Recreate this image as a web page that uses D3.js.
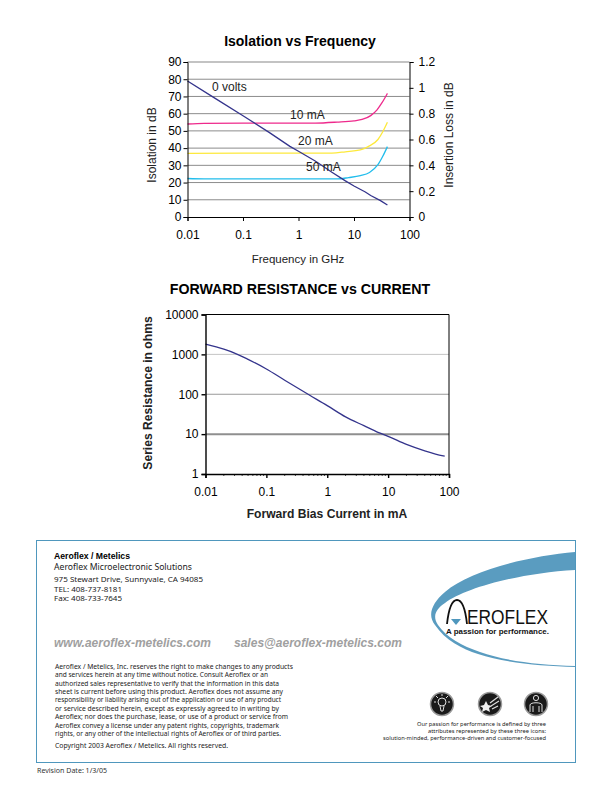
<!DOCTYPE html>
<html>
<head>
<meta charset="utf-8">
<script src="https://cdnjs.cloudflare.com/ajax/libs/d3/7.8.5/d3.min.js"></script>
<style>
  html, body { margin: 0; padding: 0; background: #fff; }
  text { font-family: "Liberation Sans", Arial, sans-serif; }
</style>
</head>
<body>
<div id="page"></div>
<script>
// isolation chart, x in GHz
const freqTicks = [0.01, 0.1, 1, 10, 100];
const isolationTicks = [0, 10, 20, 30, 40, 50, 60, 70, 80, 90];
const lossTicks = [0, 0.2, 0.4, 0.6, 0.8, 1, 1.2];
const zeroVolts = [[0.01, 79], [0.03, 69.3], [0.1, 58.8], [0.3, 49], [0.7, 41], [1, 38.2], [2, 32.5], [4, 26], [7, 21], [10, 18], [16, 14.5], [20, 12.5], [30, 9.5], [40, 7]];
const tenMa = [[0.01, 0.72], [0.02, 0.725], [0.1, 0.727], [1, 0.727], [2, 0.727], [5, 0.735], [10, 0.745], [14, 0.755], [20, 0.785], [26, 0.83], [32, 0.885], [40, 0.957]];
const twentyMa = [[0.01, 0.493], [0.1, 0.495], [1, 0.495], [4, 0.495], [7, 0.505], [13, 0.52], [18, 0.545], [27, 0.6], [33, 0.66], [40, 0.733]];
const fiftyMa = [[0.01, 0.298], [0.02, 0.295], [0.1, 0.295], [1, 0.295], [5, 0.295], [8, 0.305], [13, 0.32], [19, 0.345], [27, 0.405], [33, 0.47], [40, 0.545]];

// resistance chart, x in mA
const currentTicks = [0.01, 0.1, 1, 10, 100];
const currentMinor = [0.02, 0.03, 0.04, 0.05, 0.06, 0.07, 0.08, 0.09, 0.2, 0.3, 0.4, 0.5, 0.6, 0.7, 0.8, 0.9, 2, 3, 4, 5, 6, 7, 8, 9, 20, 30, 40, 50, 60, 70, 80, 90];
const resistanceTicks = [1, 10, 100, 1000, 10000];
const resistance = [[0.01, 1800], [0.02, 1350], [0.03, 1080], [0.05, 750], [0.1, 430], [0.2, 225], [0.5, 97], [1, 52], [2, 27], [4, 16.3], [7, 10.9], [10, 8.8], [20, 5.5], [40, 3.8], [60, 3.17], [85, 2.8]];

const addressLines = ["Aeroflex Microelectronic Solutions", "975 Stewart Drive, Sunnyvale, CA  94085", "TEL: 408-737-8181", "Fax: 408-733-7645"];
const legalLines = [
  "Aeroflex / Metelics, Inc. reserves the right to make changes to any products",
  "and services herein at any time without notice. Consult Aeroflex or an",
  "authorized sales representative to verify that the information in this data",
  "sheet is current before using this product. Aeroflex does not assume any",
  "responsibility or liability arising out of the application or use of any product",
  "or service described herein, except as expressly agreed to in writing by",
  "Aeroflex; nor does the purchase, lease, or use of a product or service from",
  "Aeroflex convey a license under any patent rights, copyrights, trademark",
  "rights, or any other of the intellectual rights of Aeroflex or of third parties."
];
const legalWidths = [238, 213, 224, 228, 226, 224, 233, 224, 226];
const captionLines = ["Our passion for performance is defined by three", "attributes represented by these three icons:", "solution-minded, performance-driven and customer-focused"];

const svg = d3.select("#page").append("svg")
  .attr("width", 612)
  .attr("height", 792)
  .style("display", "block");

function label(x, y, str, size, opts) {
  opts = opts || {};
  const t = svg.append("text")
    .attr("x", x)
    .attr("y", y)
    .attr("font-size", size)
    .attr("fill", opts.fill || "#000")
    .attr("text-anchor", opts.anchor || "start")
    .text(str);
  if (opts.bold) t.attr("font-weight", "bold");
  if (opts.italic) t.attr("font-style", "italic");
  if (opts.rotate) t.attr("transform", "rotate(-90 " + x + " " + y + ")");
  if (opts.length) t.attr("textLength", opts.length).attr("lengthAdjust", "spacingAndGlyphs");
  if (opts.family) t.style("font-family", opts.family);
  return t;
}

function styleAxis(g, w) {
  g.selectAll("path, line").attr("stroke", "#000").attr("stroke-width", w);
  g.selectAll("text").attr("font-size", 12).attr("fill", "#000").style("font-family", '"Liberation Sans", Arial, sans-serif');
}

// ---- Isolation vs Frequency ----
const x1 = d3.scaleLog().domain([0.01, 100]).range([187.5, 409.5]);
const yIso = d3.scaleLinear().domain([0, 90]).range([217, 62]);
const yLoss = d3.scaleLinear().domain([0, 1.2]).range([217, 62]);

svg.append("g").selectAll("line")
  .data(isolationTicks.filter(d => d > 0 && d < 90))
  .enter().append("line")
  .attr("x1", x1.range()[0])
  .attr("x2", x1.range()[1])
  .attr("y1", d => yIso(d))
  .attr("y2", d => yIso(d))
  .attr("stroke", "#8c8c8c")
  .attr("stroke-width", 1);

svg.append("line")
  .attr("x1", x1.range()[0]).attr("x2", x1.range()[1])
  .attr("y1", 62).attr("y2", 62)
  .attr("stroke", "#555").attr("stroke-width", 0.7);

const lineIso = d3.line().x(d => x1(d[0])).y(d => yIso(d[1]));
const lineLoss = d3.line().x(d => x1(d[0])).y(d => yLoss(d[1])).curve(d3.curveMonotoneX);

svg.append("path").datum(tenMa).attr("d", lineLoss).attr("fill", "none").attr("stroke", "#ee2a8c").attr("stroke-width", 1.3);
svg.append("path").datum(twentyMa).attr("d", lineLoss).attr("fill", "none").attr("stroke", "#fde93c").attr("stroke-width", 1.3);
svg.append("path").datum(fiftyMa).attr("d", lineLoss).attr("fill", "none").attr("stroke", "#22bdec").attr("stroke-width", 1.3);
svg.append("path").datum(zeroVolts).attr("d", lineIso).attr("fill", "none").attr("stroke", "#34348c").attr("stroke-width", 1.3);

const axB1 = svg.append("g").attr("transform", "translate(0,217)")
  .call(d3.axisBottom(x1).tickValues(freqTicks).tickFormat(d => String(d)).tickSize(4).tickPadding(9));
styleAxis(axB1, 1);
const axL1 = svg.append("g").attr("transform", "translate(187.5,0)")
  .call(d3.axisLeft(yIso).tickValues(isolationTicks).tickSize(4).tickPadding(2));
styleAxis(axL1, 1);
const axR1 = svg.append("g").attr("transform", "translate(409.5,0)")
  .call(d3.axisRight(yLoss).tickValues(lossTicks).tickFormat(d => String(d)).tickSize(4).tickPadding(5));
styleAxis(axR1, 1);

label(300, 46, "Isolation vs Frequency", 14, { bold: true, anchor: "middle" });
label(156, 145, "Isolation in dB", 12, { rotate: true, anchor: "middle", fill: "#222" });
label(453, 135, "Insertion Loss in dB", 12, { rotate: true, anchor: "middle", fill: "#222" });
label(298, 263, "Frequency in GHz", 11.5, { anchor: "middle", fill: "#222" });
label(212, 91, "0 volts", 12, { fill: "#222" });
label(290, 119, "10 mA", 12, { fill: "#222" });
label(298, 145, "20 mA", 12, { fill: "#222" });
label(306, 171, "50 mA", 12, { fill: "#222" });

// ---- Forward resistance vs current ----
const x2 = d3.scaleLog().domain([0.01, 100]).range([205.5, 449]);
const yRes = d3.scaleLog().domain([1, 10000]).range([474, 314.5]);

svg.append("line").attr("x1", 205.5).attr("x2", 449).attr("y1", yRes(1000)).attr("y2", yRes(1000)).attr("stroke", "#c4c4c4").attr("stroke-width", 1);
svg.append("line").attr("x1", 205.5).attr("x2", 449).attr("y1", yRes(100)).attr("y2", yRes(100)).attr("stroke", "#999").attr("stroke-width", 1);
svg.append("line").attr("x1", 205.5).attr("x2", 449).attr("y1", yRes(10)).attr("y2", yRes(10)).attr("stroke", "#8f8f8f").attr("stroke-width", 2);

svg.append("path").datum(resistance)
  .attr("d", d3.line().x(d => x2(d[0])).y(d => yRes(d[1])).curve(d3.curveMonotoneX))
  .attr("fill", "none").attr("stroke", "#34348c").attr("stroke-width", 1.3);

svg.append("line").attr("x1", 205.5).attr("x2", 449).attr("y1", 314.5).attr("y2", 314.5).attr("stroke", "#000").attr("stroke-width", 1);
svg.append("line").attr("x1", 449).attr("x2", 449).attr("y1", 314.5).attr("y2", 474).attr("stroke", "#000").attr("stroke-width", 1);

svg.append("g").selectAll("line")
  .data(currentMinor)
  .enter().append("line")
  .attr("x1", d => x2(d)).attr("x2", d => x2(d))
  .attr("y1", 474).attr("y2", 476)
  .attr("stroke", "#000").attr("stroke-width", 0.7);

const axB2 = svg.append("g").attr("transform", "translate(0,474)")
  .call(d3.axisBottom(x2).tickValues(currentTicks).tickFormat(d => String(d)).tickSize(4).tickPadding(9.5));
styleAxis(axB2, 1.4);
const axL2 = svg.append("g").attr("transform", "translate(205.5,0)")
  .call(d3.axisLeft(yRes).tickValues(resistanceTicks).tickFormat(d => String(d)).tickSize(4).tickPadding(3));
styleAxis(axL2, 1.4);

label(300, 294, "FORWARD RESISTANCE vs CURRENT", 14.2, { bold: true, anchor: "middle" });
label(152, 393, "Series Resistance in ohms", 12.1, { bold: true, rotate: true, anchor: "middle", fill: "#222" });
label(327, 518, "Forward Bias Current in mA", 12.1, { bold: true, anchor: "middle", fill: "#222" });

// ---- Footer box ----
const blue = "#4f97bd";
svg.append("rect").attr("x", 36.5).attr("y", 540.5).attr("width", 539).attr("height", 222)
  .attr("fill", "none").attr("stroke", blue).attr("stroke-width", 1);

svg.append("path")
  .attr("d", "M575 552 C530 556 470 570 445 592 C432 603 427 615 435 625 C445 640 462 649 478 654 C505 663 540 666 575 667 L575 666 C540 665 505 661 480 652 C462 646 446 637 438 625 C432 616 436 609 445 603 C465 588 520 573 575 570 Z")
  .attr("fill", "#5a9cc0");

label(54, 559, "Aeroflex / Metelics", 8.6, { bold: true, length: 76 });
const addrY = [569.5, 581.5, 591.5, 601];
const addrLen = [138, 149, 68, 68];
addressLines.forEach((s, i) => label(54, addrY[i], s, i === 0 ? 8.8 : 7.8, { fill: "#222", family: '"Noto Sans"', length: addrLen[i] }));

label(54, 647, "www.aeroflex-metelics.com", 12, { bold: true, italic: true, fill: "#a0a0a0", length: 157 });
label(234, 647, "sales@aeroflex-metelics.com", 12, { bold: true, italic: true, fill: "#a0a0a0", length: 168 });

legalLines.forEach((s, i) => label(55, 669 + i * 8.3 + (i > 6 ? 1 : 0), s, 6.6, { fill: "#222", family: '"Noto Sans"', length: legalWidths[i] }));
label(55, 748, "Copyright 2003 Aeroflex / Metelics. All rights reserved.", 6.6, { fill: "#222", family: '"Noto Sans"', length: 173 });
label(37, 773, "Revision Date:  1/3/05", 6.6, { fill: "#333", family: '"Noto Sans"', length: 70 });

// logo
svg.append("path").attr("d", "M447 624 C449 606 453 600 457 600 C461 600 465 606 467 624")
  .attr("fill", "none").attr("stroke", "#111").attr("stroke-width", 1.8);
svg.append("path").attr("d", "M451 619 L461 619 L456 625 Z").attr("fill", "#4f97bd");
label(467, 623.5, "EROFLEX", 19.5, { length: 81, fill: "#111" });
label(446, 634, "A passion for performance.", 7, { bold: true, length: 103, fill: "#111" });

// icons
const iconX = [442, 490, 536];
iconX.forEach(cx => {
  svg.append("circle").attr("cx", cx).attr("cy", 704).attr("r", 11.5).attr("fill", "#1a1a1a").attr("stroke", "#9a9a9a").attr("stroke-width", 1.5);
});
const g1 = svg.append("g").attr("fill", "none").attr("stroke", "#ddd").attr("stroke-width", 1);
g1.append("circle").attr("cx", 442).attr("cy", 702).attr("r", 4);
g1.append("path").attr("d", "M440 706 L441 711 L443 711 L444 706 M434 702 L436 702 M448 702 L450 702 M436 696 L438 698 M448 696 L446 698 M442 694 L442 696");
svg.append("path").attr("d", "M480 706 L484 705 L486 701 L488 705 L492 706 L489 708 L490 712 L486 710 L482 712 L483 708 Z").attr("fill", "#eee");
svg.append("path").attr("d", "M490 703 L498 697 M491 706 L499 701 M492 709 L498 706").attr("stroke", "#ddd").attr("stroke-width", 1.2);
const g3 = svg.append("g").attr("fill", "none").attr("stroke", "#ddd").attr("stroke-width", 1);
g3.append("circle").attr("cx", 536).attr("cy", 698).attr("r", 2.6);
g3.append("path").attr("d", "M530 712 L530 705 C530 702 542 702 542 705 L542 712 M533 712 L533 706 M539 712 L539 706");

const capY = [725.5, 732.5, 739.5];
const capLen = [129, 118, 163];
captionLines.forEach((s, i) => label(546, capY[i], s, 6, { anchor: "end", fill: "#222", family: '"Noto Sans"', length: capLen[i] }));
</script>
</body>
</html>
